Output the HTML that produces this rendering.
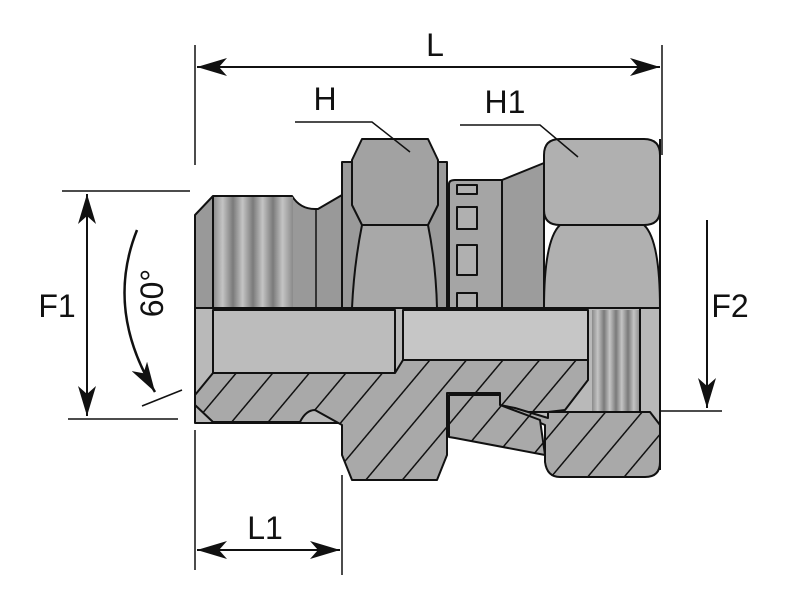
<!DOCTYPE html>
<html><head><style>
html,body{margin:0;padding:0;background:#fff;}
svg{display:block;}
text{font-family:"Liberation Sans",sans-serif;fill:#111;}
</style></head><body>
<svg width="800" height="600" viewBox="0 0 800 600" xmlns="http://www.w3.org/2000/svg">
<defs>
<pattern id="h" patternUnits="userSpaceOnUse" width="28" height="28" patternTransform="rotate(40)">
<rect width="28" height="28" fill="#a9a9a9"/>
<line x1="0" y1="0" x2="0" y2="28" stroke="#111" stroke-width="3"/>
</pattern>
<linearGradient id="thr" x1="0" x2="1" y1="0" y2="0">
<stop offset="0" stop-color="#8a8a8a"/><stop offset="0.12" stop-color="#c4c4c4"/><stop offset="0.25" stop-color="#7a7a7a"/>
<stop offset="0.37" stop-color="#c4c4c4"/><stop offset="0.5" stop-color="#7a7a7a"/><stop offset="0.62" stop-color="#c4c4c4"/>
<stop offset="0.75" stop-color="#7a7a7a"/><stop offset="0.87" stop-color="#c4c4c4"/><stop offset="1" stop-color="#8a8a8a"/>
</linearGradient>
<marker id="a" viewBox="0 0 30 18" refX="30" refY="9" markerWidth="30" markerHeight="18" markerUnits="userSpaceOnUse" orient="auto-start-reverse">
<path d="M0,0 L30,9 L0,18 L8,9 Z" fill="#111"/>
</marker>
</defs>
<g stroke="#111" stroke-width="2" stroke-linejoin="round">
<path d="M195,215 L213,196 L292,196 Q300,209 315,209 L318,209 L342,195 L342,308 L195,308 Z" fill="#999"/>
<rect x="213" y="197" width="80" height="111" fill="url(#thr)" stroke="none"/>
<line x1="213" y1="196" x2="213" y2="308"/>
<line x1="316" y1="209" x2="316" y2="308" stroke-width="1.5"/>
<rect x="342" y="162" width="105" height="146" fill="#9a9a9a"/>
<path d="M352,160 L362,139 L428,139 L438,160 L438,205 L428,225 L362,225 L352,205 Z" fill="#a2a2a2"/>
<path d="M362,225 L428,225 Q436,265 437,308 L352,308 Q354,265 362,225 Z" fill="#a8a8a8"/>
<path d="M449,184 Q449,180 455,180 L502,180 L502,308 L449,308 Z" fill="#a5a5a5"/>
<rect x="457" y="185" width="20" height="9" fill="#b0b0b0"/>
<rect x="457" y="207" width="20" height="22" fill="#b0b0b0"/>
<rect x="457" y="245" width="20" height="30" fill="#b0b0b0"/>
<rect x="457" y="293" width="20" height="15" fill="#b0b0b0"/>
<path d="M502,180 L544,163 L544,308 L502,308 Z" fill="#9c9c9c"/>
<path d="M560,139 L644,139 Q660,139 660,155 L660,210 Q660,225 644,225 L560,225 Q544,225 544,210 L544,155 Q544,139 560,139 Z" fill="#b0b0b0"/>
<path d="M560,225 L644,225 Q660,240 660,308 L544,308 Q544,240 560,225 Z" fill="#b0b0b0"/>
<rect x="195" y="308" width="465" height="115" fill="#b9b9b9"/>
<rect x="213" y="310" width="182" height="63" fill="#bcbcbc"/>
<rect x="403" y="310" width="185" height="50" fill="#c6c6c6"/>
<rect x="592" y="310" width="48" height="102" fill="url(#thr)" stroke="none"/>
<line x1="640" y1="308" x2="640" y2="412"/>
<path d="M195,395 L195,405 L213,422 L300,422 Q306,410 315,410 L342,425 L342,455 L352,480 L437,480 L447,455 L447,393 L500,393 L500,405 L510,412 L548,412 L565,410 L588,380 L588,360 L403,360 L395,373 L213,373 Z" fill="url(#h)"/>
<path d="M449,395 L500,395 L500,408 L512,410 L545,425 L545,462 Q547,477 560,477 L645,477 Q660,477 660,462 L660,425 L650,412 L565,412 L548,412 L548,418 L515,408 L500,405 L500,395 Z" fill="url(#h)"/>
<path d="M449,395 L500,395 L500,405 L540,420 L545,455 L455,438 L449,437 Z" fill="url(#h)"/>
<line x1="195" y1="308" x2="660" y2="308" stroke-width="2"/>
<line x1="660" y1="139" x2="660" y2="470"/>
</g>
<g stroke="#111" stroke-width="1.5" fill="none">
<line x1="195" y1="45" x2="195" y2="165"/>
<line x1="662" y1="45" x2="662" y2="155"/>
<line x1="197" y1="67" x2="660" y2="67" marker-start="url(#a)" marker-end="url(#a)" stroke-width="2"/>
<polyline points="295,122 372,122 410,152"/>
<polyline points="460,125 540,125 578,157"/>
<line x1="62" y1="191" x2="190" y2="191"/>
<line x1="68" y1="419" x2="178" y2="419"/>
<line x1="87" y1="194" x2="87" y2="416" marker-start="url(#a)" marker-end="url(#a)" stroke-width="2"/>
<path d="M137,230 Q105,310 155,392" marker-end="url(#a)" stroke-width="2.5"/>
<line x1="142" y1="406" x2="182" y2="390"/>
<line x1="707" y1="220" x2="707" y2="408" marker-end="url(#a)" stroke-width="2"/>
<line x1="660" y1="411" x2="722" y2="411"/>
<line x1="195" y1="430" x2="195" y2="570"/>
<line x1="342" y1="475" x2="342" y2="575"/>
<line x1="197" y1="550" x2="340" y2="550" marker-start="url(#a)" marker-end="url(#a)" stroke-width="2"/>
</g>
<text x="435" y="56" font-size="32" text-anchor="middle">L</text>
<text x="325" y="110" font-size="32" text-anchor="middle">H</text>
<text x="505" y="113" font-size="32" text-anchor="middle">H1</text>
<text x="57" y="317" font-size="32" text-anchor="middle">F1</text>
<text x="730" y="317" font-size="32" text-anchor="middle">F2</text>
<text x="265" y="539" font-size="32" text-anchor="middle">L1</text>
<text transform="translate(163,293) rotate(-90)" font-size="32" text-anchor="middle">60°</text>
</svg>
</body></html>
